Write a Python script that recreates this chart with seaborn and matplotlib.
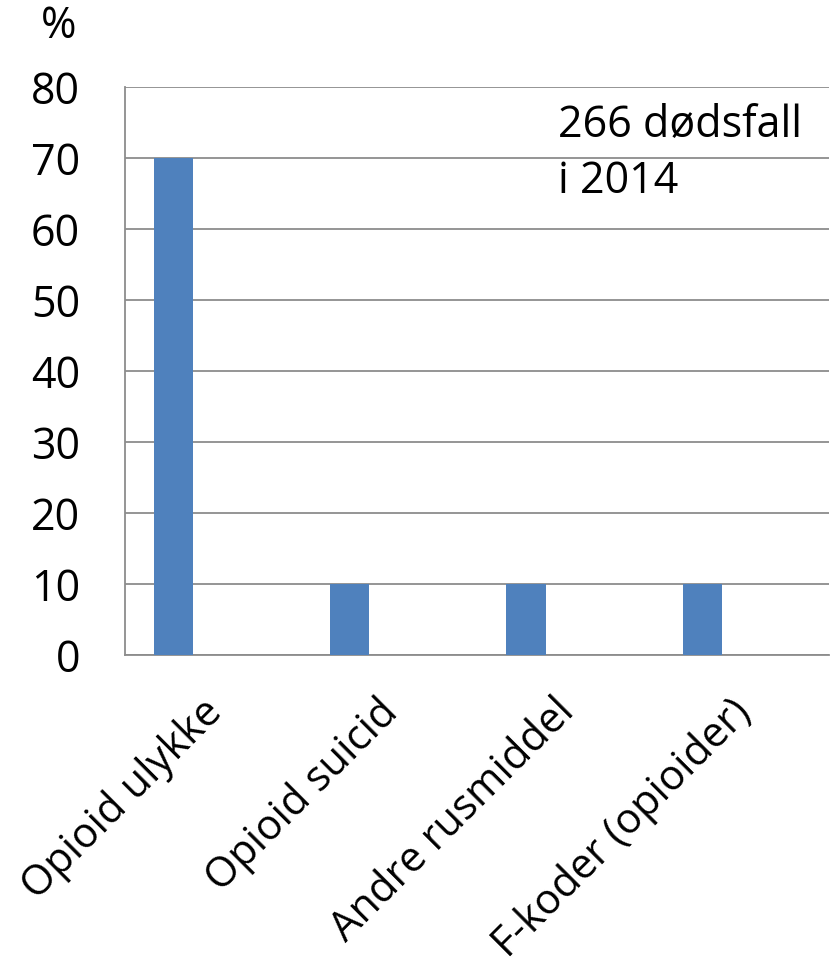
import pandas as pd
import seaborn as sns
import matplotlib.pyplot as plt
from matplotlib.transforms import ScaledTranslation

categories = ['Opioid ulykke', 'Opioid suicid', 'Andre rusmiddel', 'F-koder (opioider)']
values = [70, 10, 10, 10]
# Excel-style clustered layout: one filled series, two empty ones
series = ['Serie 1', 'Serie 2', 'Serie 3']
y_ticks = [0, 10, 20, 30, 40, 50, 60, 70, 80]

sns.set_style('white')
plt.rcParams['font.family'] = ['Open Sans', 'DejaVu Sans']
plt.rcParams['text.color'] = 'black'
plt.rcParams['xtick.labelcolor'] = 'black'
plt.rcParams['ytick.labelcolor'] = 'black'

df = pd.DataFrame({'kategori': categories, 'prosent': values, 'serie': series[0]})

fig = plt.figure(figsize=(8.31, 9.67), dpi=100)
ax = fig.add_axes([0.150, 0.3226, 0.848, 0.5874])

grid_col = '#8c8c8c'
sns.barplot(data=df, x='kategori', y='prosent', hue='serie', hue_order=series,
            palette=['#4f81bd'] * 3, width=3 / 4.5, dodge=True, saturation=1,
            linewidth=0, legend=False, ax=ax, zorder=3)

ax.set_ylim(0, 80)
ax.set_xlim(-0.5, len(categories) - 0.5)
ax.set_yticks(y_ticks)
ax.set_yticklabels([str(t) for t in y_ticks], fontsize=31)
ax.yaxis.grid(True, color=grid_col, linewidth=1.3, zorder=0)
ax.set_axisbelow(True)

# category boundary ticks on x axis, labels at the centres
ax.set_xticks([i + 0.5 for i in range(-1, len(categories))], minor=False)
ax.set_xticklabels([])
ax.set_xticks(range(len(categories)), minor=True)
ax.set_xticklabels(categories, minor=True, rotation=45, ha='right',
                   rotation_mode='anchor', fontsize=30)
ax.tick_params(axis='x', which='minor', length=0, pad=10, labelcolor='black')
ax.tick_params(axis='x', which='major', length=15, width=1.3, color=grid_col)
ax.tick_params(axis='y', length=15, width=1.3, color=grid_col, pad=17,
               labelcolor='black')

# nudge rotated labels (after tick_params, which resets the transforms)
shift = ScaledTranslation(-0.12, -0.22, fig.dpi_scale_trans)
for lab in ax.get_xticklabels(minor=True):
    lab.set_transform(lab.get_transform() + shift)

for side in ['top', 'right']:
    ax.spines[side].set_visible(False)
for side in ['left', 'bottom']:
    ax.spines[side].set_color(grid_col)
    ax.spines[side].set_linewidth(1.3)

ax.set_xlabel('')
ax.set_ylabel('')

fig.text(0.07, 0.972, '%', fontsize=31, ha='center', va='center', color='black')
ax.text(1.96, 77.7, '266 dødsfall\ni 2014', fontsize=31, ha='left', va='top',
        linespacing=1.35, color='black')

plt.savefig('out.png', dpi=100)
plt.close()
